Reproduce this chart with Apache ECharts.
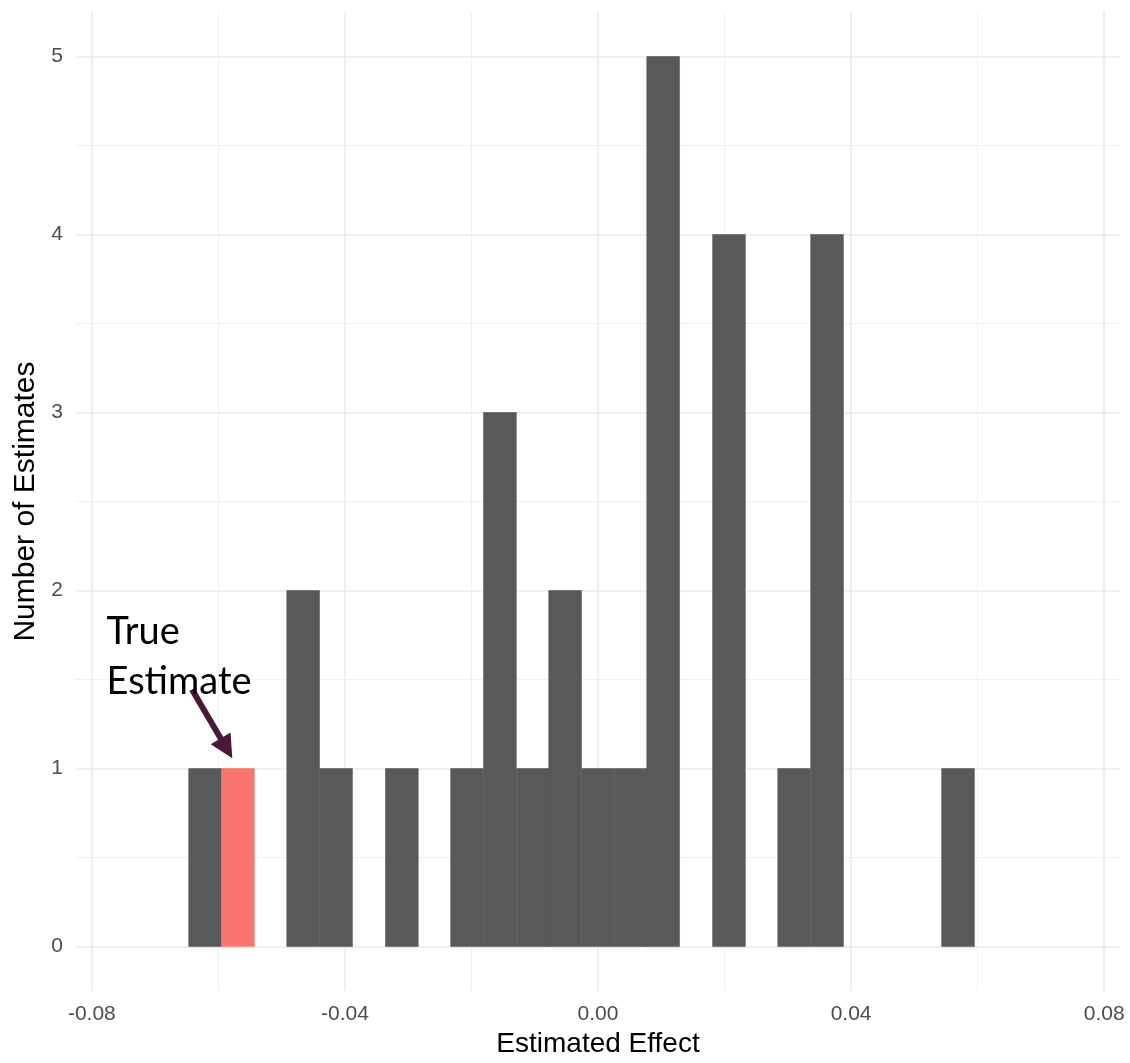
<!DOCTYPE html>
<html>
<head>
<meta charset="utf-8">
<script src="https://cdn.jsdelivr.net/npm/echarts@6/dist/echarts.min.js"></script>
<style>
html,body{margin:0;padding:0;background:#fff;}
#chart{width:1130px;height:1063px;}
</style>
</head>
<body>
<div id="chart"></div>
<script>
// ---- data ----
const binCenters = [-0.0621, -0.0569, -0.0517, -0.0466, -0.0414, -0.0362, -0.0310, -0.0259,
  -0.0207, -0.0155, -0.0103, -0.0052, 0.0000, 0.0052, 0.0103, 0.0155,
  0.0207, 0.0259, 0.0310, 0.0362, 0.0414, 0.0466, 0.0517, 0.0569];
const counts = [1, 1, 0, 2, 1, 0, 1, 0, 1, 3, 1, 2, 1, 1, 5, 0, 4, 0, 1, 4, 0, 0, 0, 1];
const highlighted = [0, 1, 0, 0, 0, 0, 0, 0, 0, 0, 0, 0, 0, 0, 0, 0, 0, 0, 0, 0, 0, 0, 0, 0];
const binWidth = 0.0051724;
const xTickLabels = [-0.08, -0.04, 0.00, 0.04, 0.08];
const xMinorGrid = [-0.06, -0.02, 0.02, 0.06];
const yTickLabels = [0, 1, 2, 3, 4, 5];
const yMinorGrid = [0.5, 1.5, 2.5, 3.5, 4.5];
const annotationText = 'True\nEstimate';
const annotationAt = [-0.0776, 1.905];
const arrowFrom = [-0.06417, 1.444];
const arrowTo = [-0.05872, 1.114];

const GRID_COLOR = '#ebebeb';
const barData = binCenters.map((c, i) => [c, counts[i], highlighted[i]]);

const chart = echarts.init(document.getElementById('chart'), null, {renderer: 'canvas'});

const gridLines = [];
xTickLabels.forEach(v => gridLines.push({xAxis: v, lineStyle: {color: GRID_COLOR, width: 1.6, type: 'solid'}}));
xMinorGrid.forEach(v => gridLines.push({xAxis: v, lineStyle: {color: '#f0f0f0', width: 1, type: 'solid'}}));
yTickLabels.forEach(v => gridLines.push({yAxis: v, lineStyle: {color: GRID_COLOR, width: 1.6, type: 'solid'}}));
yMinorGrid.forEach(v => gridLines.push({yAxis: v, lineStyle: {color: '#f0f0f0', width: 1, type: 'solid'}}));

chart.setOption({
  animation: false,
  backgroundColor: '#ffffff',
  grid: {left: 76, right: 10, top: 12, bottom: 67, containLabel: false},
  xAxis: {
    type: 'value', min: -0.0825, max: 0.0825,
    name: 'Estimated Effect', nameLocation: 'middle', nameGap: 34,
    nameTextStyle: {fontFamily: 'Liberation Sans, Arial', fontSize: 28, color: '#000000', verticalAlign: 'top'},
    axisLine: {show: false}, axisTick: {show: false}, splitLine: {show: false},
    axisLabel: {
      customValues: xTickLabels,
      formatter: v => v.toFixed(2),
      fontFamily: 'Liberation Sans, Arial', fontSize: 21, color: '#4d4d4d', margin: 13
    }
  },
  yAxis: {
    type: 'value', min: -0.25, max: 5.25,
    name: 'Number of Estimates', nameLocation: 'middle', nameGap: 32, nameRotate: 90,
    nameTextStyle: {fontFamily: 'Liberation Sans, Arial', fontSize: 30, color: '#000000'},
    axisLine: {show: false}, axisTick: {show: false}, splitLine: {show: false},
    axisLabel: {
      customValues: yTickLabels,
      fontFamily: 'Liberation Sans, Arial', fontSize: 21, color: '#4d4d4d', margin: 13
    }
  },
  series: [
    {
      type: 'line', data: [], z: 0, silent: true,
      markLine: {z: 0, silent: true, symbol: ['none', 'none'], label: {show: false}, animation: false, data: gridLines}
    },
    {
      type: 'custom', z: 2, data: barData,
      encode: {x: 0, y: 1},
      renderItem: function (params, api) {
        const c = api.value(0), n = api.value(1), hl = api.value(2);
        if (!n) return null;
        const p1 = api.coord([c - binWidth / 2, n]);
        const p2 = api.coord([c + binWidth / 2, 0]);
        const col = hl ? '#F8766D' : '#595959';
        return {
          type: 'rect',
          z2: hl ? 1 : 0,
          shape: {x: p1[0], y: p1[1], width: p2[0] - p1[0], height: p2[1] - p1[1]},
          style: {fill: col, stroke: col, lineWidth: 0.6}
        };
      }
    },
    {
      type: 'line', data: [], z: 5, silent: true,
      markLine: {
        z: 6, silent: true, animation: false,
        symbol: ['none', 'triangle'], symbolSize: 23,
        label: {show: false},
        itemStyle: {color: '#4a1838'},
        lineStyle: {color: '#4a1838', width: 6, type: 'solid'},
        data: [[{coord: arrowFrom}, {coord: arrowTo}]]
      },
      markPoint: {
        z: 6, silent: true, animation: false,
        symbol: 'rect', symbolSize: 1, itemStyle: {color: 'rgba(0,0,0,0)'},
        label: {
          show: true, position: [0, 0], align: 'left', verticalAlign: 'top',
          formatter: annotationText, fontFamily: 'Lato', fontSize: 38, lineHeight: 50, color: '#000000'
        },
        data: [{coord: annotationAt, value: 0}]
      }
    }
  ]
});
</script>
</body>
</html>
